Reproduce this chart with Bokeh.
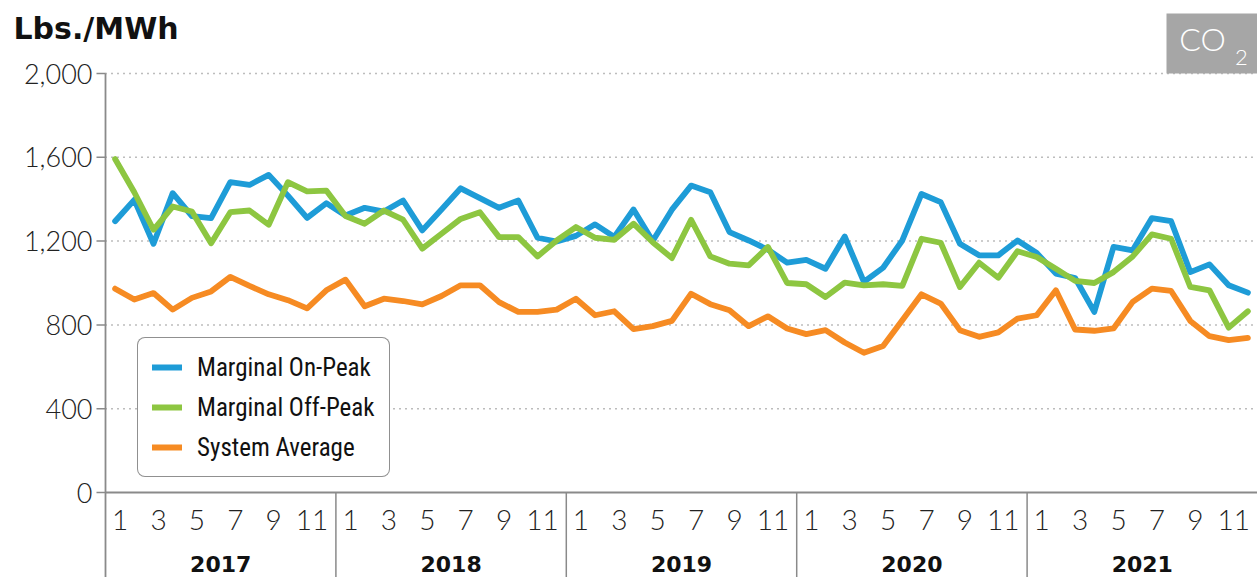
from bokeh.plotting import figure
from bokeh.models import Range1d, Legend, LegendItem
from bokeh.core.properties import value
from bokeh.embed import file_html
from bokeh.resources import INLINE

# ---------------- data ----------------
years = ["2017", "2018", "2019", "2020", "2021"]
month_ticks = [1, 3, 5, 7, 9, 11]
y_ticks = [0, 400, 800, 1200, 1600, 2000]
y_tick_labels = ["0", "400", "800", "1,200", "1,600", "2,000"]

on_peak = [1295, 1397, 1187, 1429, 1319, 1310, 1481, 1468, 1516, 1417, 1311, 1381,
           1322, 1359, 1341, 1394, 1251, 1351, 1452, 1405, 1359, 1394, 1216, 1198,
           1225, 1280, 1220, 1351, 1200, 1350, 1465, 1433, 1243, 1203, 1159, 1097,
           1110, 1068, 1222, 1005, 1073, 1203, 1425, 1386, 1187, 1132, 1132, 1203,
           1143, 1045, 1024, 862, 1172, 1156, 1310, 1295, 1052, 1089, 989, 954]
off_peak = [1592, 1433, 1254, 1365, 1341, 1190, 1338, 1346, 1278, 1481, 1437, 1441,
            1320, 1283, 1346, 1302, 1164, 1235, 1306, 1338, 1219, 1219, 1127, 1203,
            1267, 1216, 1206, 1283, 1195, 1119, 1302, 1127, 1092, 1084, 1172, 1000,
            994, 933, 1002, 989, 994, 986, 1211, 1192, 981, 1097, 1025, 1152,
            1124, 1068, 1010, 1000, 1052, 1127, 1232, 1211, 981, 965, 787, 865]
system_avg = [973, 921, 952, 873, 929, 960, 1029, 986, 946, 918, 879, 965,
              1016, 889, 925, 914, 898, 938, 989, 989, 909, 862, 862, 873,
              925, 846, 865, 780, 794, 819, 949, 899, 870, 794, 841, 783,
              756, 775, 716, 667, 699, 822, 946, 902, 775, 743, 764, 830,
              846, 965, 778, 772, 783, 910, 973, 962, 819, 746, 727, 738]

series_names = ["Marginal On-Peak", "Marginal Off-Peak", "System Average"]
colors = ["#1e9cd7", "#8dc641", "#f68b23"]

n = len(on_peak)
xs = list(range(n))

# ---------------- layout helpers (page pixels -> data) ----------------
W, H = 1257, 577
AXIS_LEFT_PX = 105.0
PX_PER_X = (W - AXIS_LEFT_PX) / n
Y0_PX = 492.0
UNITS_PER_PX = 2000.0 / 419.0


def dx(px):
    return -0.5 + (px - AXIS_LEFT_PX) / PX_PER_X


def dy(py):
    return (Y0_PX - py) * UNITS_PER_PX


LIGHT = value("'Lato Light', Lato")
BOLD = value("'DejaVu Sans'")

p = figure(width=W, height=H, output_backend="svg", toolbar_location=None,
           x_range=Range1d(dx(0), dx(W)), y_range=Range1d(dy(H), dy(0)),
           x_axis_location=None, y_axis_location=None,
           min_border_left=0, min_border_right=0, min_border_top=0, min_border_bottom=0)
p.outline_line_color = None
p.background_fill_color = "white"
p.border_fill_color = "white"
p.grid.visible = False

AX_COLOR = "#8a8a8a"
X_LEFT, X_RIGHT = -0.5, n - 0.5

# dotted horizontal grid
grid_y = [t for t in y_ticks if t > 0]
p.segment(x0=[X_LEFT] * len(grid_y), y0=grid_y, x1=[X_RIGHT] * len(grid_y), y1=grid_y,
          line_color="#7a7a7a", line_width=1.5, line_dash="1 5")

# y tick stubs and labels
p.segment(x0=[dx(96)] * len(y_ticks), y0=y_ticks, x1=[X_LEFT] * len(y_ticks), y1=y_ticks,
          line_color=AX_COLOR, line_width=1.5)
p.text(x=[dx(92)] * len(y_ticks), y=y_ticks, text=y_tick_labels, text_align="right",
       text_baseline="middle", text_font=LIGHT, text_font_size="27px",
       text_color="#222222")

# axis lines
p.segment(x0=[X_LEFT], y0=[dy(H)], x1=[X_LEFT], y1=[2000], line_color=AX_COLOR, line_width=1.8)
p.segment(x0=[X_LEFT], y0=[0], x1=[X_RIGHT], y1=[0], line_color=AX_COLOR, line_width=1.8)
div_x = [12 * k - 0.5 for k in range(1, len(years))]
p.segment(x0=div_x, y0=[0] * len(div_x), x1=div_x, y1=[dy(H)] * len(div_x),
          line_color=AX_COLOR, line_width=1.5)

# month labels
mx, mt = [], []
for k in range(len(years)):
    for m in month_ticks:
        mx.append(12 * k + m - 1)
        mt.append(str(m))
p.text(x=mx, y=[dy(519)] * len(mx), text=mt, text_align="center", text_baseline="middle",
       text_font=LIGHT, text_font_size="28px", text_color="#222222", x_offset=5)

# year labels
yx = [12 * k + 5.5 for k in range(len(years))]
p.text(x=yx, y=[dy(563)] * len(yx), text=years, text_align="center", text_baseline="middle",
       text_font=BOLD, text_font_size="22px", text_font_style="bold", text_color="#111111")

# lines
renderers = []
for vals, c in zip([on_peak, off_peak, system_avg], colors):
    r = p.line(xs, vals, line_width=5.8, line_color=c, line_cap="round", line_join="round")
    renderers.append(r)

legend = Legend(items=[LegendItem(label=nm, renderers=[r]) for nm, r in zip(series_names, renderers)],
                location=(137, 100))
legend.border_line_color = "#222222"
legend.border_line_width = 1.5
legend.background_fill_color = "white"
legend.background_fill_alpha = 1
legend.label_text_font = "'Roboto Condensed', 'Liberation Sans Narrow', 'DejaVu Sans Condensed', Roboto"
legend.label_text_font_size = "25px"
legend.label_text_color = "#111111"
legend.glyph_width = 30
legend.glyph_height = 30
legend.label_height = 30
legend.label_standoff = 15
legend.spacing = 10
legend.padding = 14
legend.margin = 0
try:
    legend.border_radius = 8
except Exception:
    pass
p.add_layout(legend)

# CO2 badge
p.quad(left=[dx(1166)], right=[X_RIGHT], bottom=[dy(73)], top=[dy(13)],
       fill_color="#a6a6a6", line_color=None)
p.text(x=[dx(1202)], y=[dy(38)], text=["CO"], text_align="center", text_baseline="middle",
       text_font=LIGHT, text_font_size="32px", text_color="white")
p.text(x=[dx(1241)], y=[dy(57)], text=["2"], text_align="center", text_baseline="middle",
       text_font=LIGHT, text_font_size="22px", text_color="white")

# unit title
p.text(x=[dx(13)], y=[dy(28)], text=["Lbs./MWh"], text_align="left", text_baseline="middle",
       text_font=BOLD, text_font_size="30px", text_font_style="bold", text_color="#111111")

open("out.html", "w").write(file_html(p, INLINE))
